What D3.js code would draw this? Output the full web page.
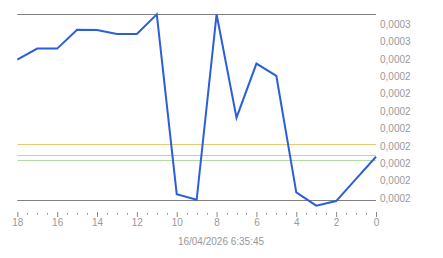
<!DOCTYPE html>
<html><head><meta charset="utf-8">
<script src="https://cdn.jsdelivr.net/npm/d3@7"></script>
<style>
html,body{margin:0;padding:0;background:#fff;}
svg{display:block;font-family:"Liberation Sans",Arial,sans-serif;}
</style></head>
<body>
<svg id="c" width="443" height="258"></svg>
<script>
// Data
const xValues = [18,17,16,15,14,13,12,11,10,9,8,7,6,5,4,3,2,1,0];
const yValues = [0.0002477,0.0002528,0.0002528,0.0002615,0.0002614,0.0002595,0.0002595,0.0002686,0.0001858,0.0001832,0.0002686,0.0002210,0.0002459,0.0002402,0.0001866,0.0001805,0.0001826,0.0001928,0.0002030];
const yTicks = [0.000264,0.000256,0.000248,0.000240,0.000232,0.000224,0.000216,0.000208,0.000200,0.000192,0.000184];
const xMajorTicks = [18,16,14,12,10,8,6,4,2,0];
const xMinorTicks = d3.range(0,18.01,0.5).filter(v => v % 2 !== 0);
const refMax = 0.0002686;
const refMin = 0.0001829;
const refOrange = 0.0002087;
const refGreen = [0.0002037,0.0002014];
const dateLabel = "16/04/2026 6:35:45";

const svg = d3.select("#c");
const x = d3.scaleLinear().domain([18,0]).range([17.3,376]);
const y = d3.scaleLinear().domain([0.000176,0.000272]).range([215.4,6.93]);
const loc = d3.formatLocale({decimal:",",thousands:".",grouping:[3],currency:["",""]});
const fmt = loc.format(".4f");

// reference lines
function hline(v,color){
  svg.append("line").attr("x1",x(18)).attr("x2",x(0))
    .attr("y1",Math.round(y(v))+0.5).attr("y2",Math.round(y(v))+0.5)
    .attr("stroke",color).attr("stroke-width",1);
}
hline(refOrange,"#ecc870");
refGreen.forEach(v=>hline(v,"#b2dca4"));
hline(refMax,"#808080");
hline(refMin,"#808080");

// y axis labels (right)
const yAxis = d3.axisRight(y).tickValues(yTicks).tickFormat(fmt).tickSize(0).tickPadding(4);
const gy = svg.append("g").attr("transform",`translate(${x(0)},0)`).call(yAxis);
gy.select(".domain").remove();
gy.selectAll("text").attr("fill","#999").attr("font-size","10px").attr("font-family","Liberation Sans, Arial, sans-serif");

// x axis
const gx = svg.append("g").attr("transform","translate(0,212)");
const xAxis = d3.axisBottom(x).tickValues(xMajorTicks).tickFormat(d3.format("d")).tickSize(5).tickPadding(2);
gx.call(xAxis);
gx.select(".domain").remove();
gx.selectAll(".tick line").attr("stroke","#888");
gx.selectAll("text").attr("fill","#999").attr("font-size","10px").attr("font-family","Liberation Sans, Arial, sans-serif");
gx.selectAll(".minor").data(xMinorTicks).enter().append("line")
  .attr("x1",d=>Math.round(x(d))+0.5).attr("x2",d=>Math.round(x(d))+0.5)
  .attr("y1",1).attr("y2",2.5).attr("stroke","#888");

// date label
svg.append("text").attr("x",221).attr("y",245).attr("text-anchor","middle")
  .attr("fill","#999").attr("font-size","10px").text(dateLabel);

// series line
const line = d3.line().x((d,i)=>x(xValues[i])).y(d=>y(d));
svg.append("path").datum(yValues).attr("d",line)
  .attr("fill","none").attr("stroke","#2b5fd8").attr("stroke-width",2).attr("stroke-linejoin","miter");
</script>
</body></html>
